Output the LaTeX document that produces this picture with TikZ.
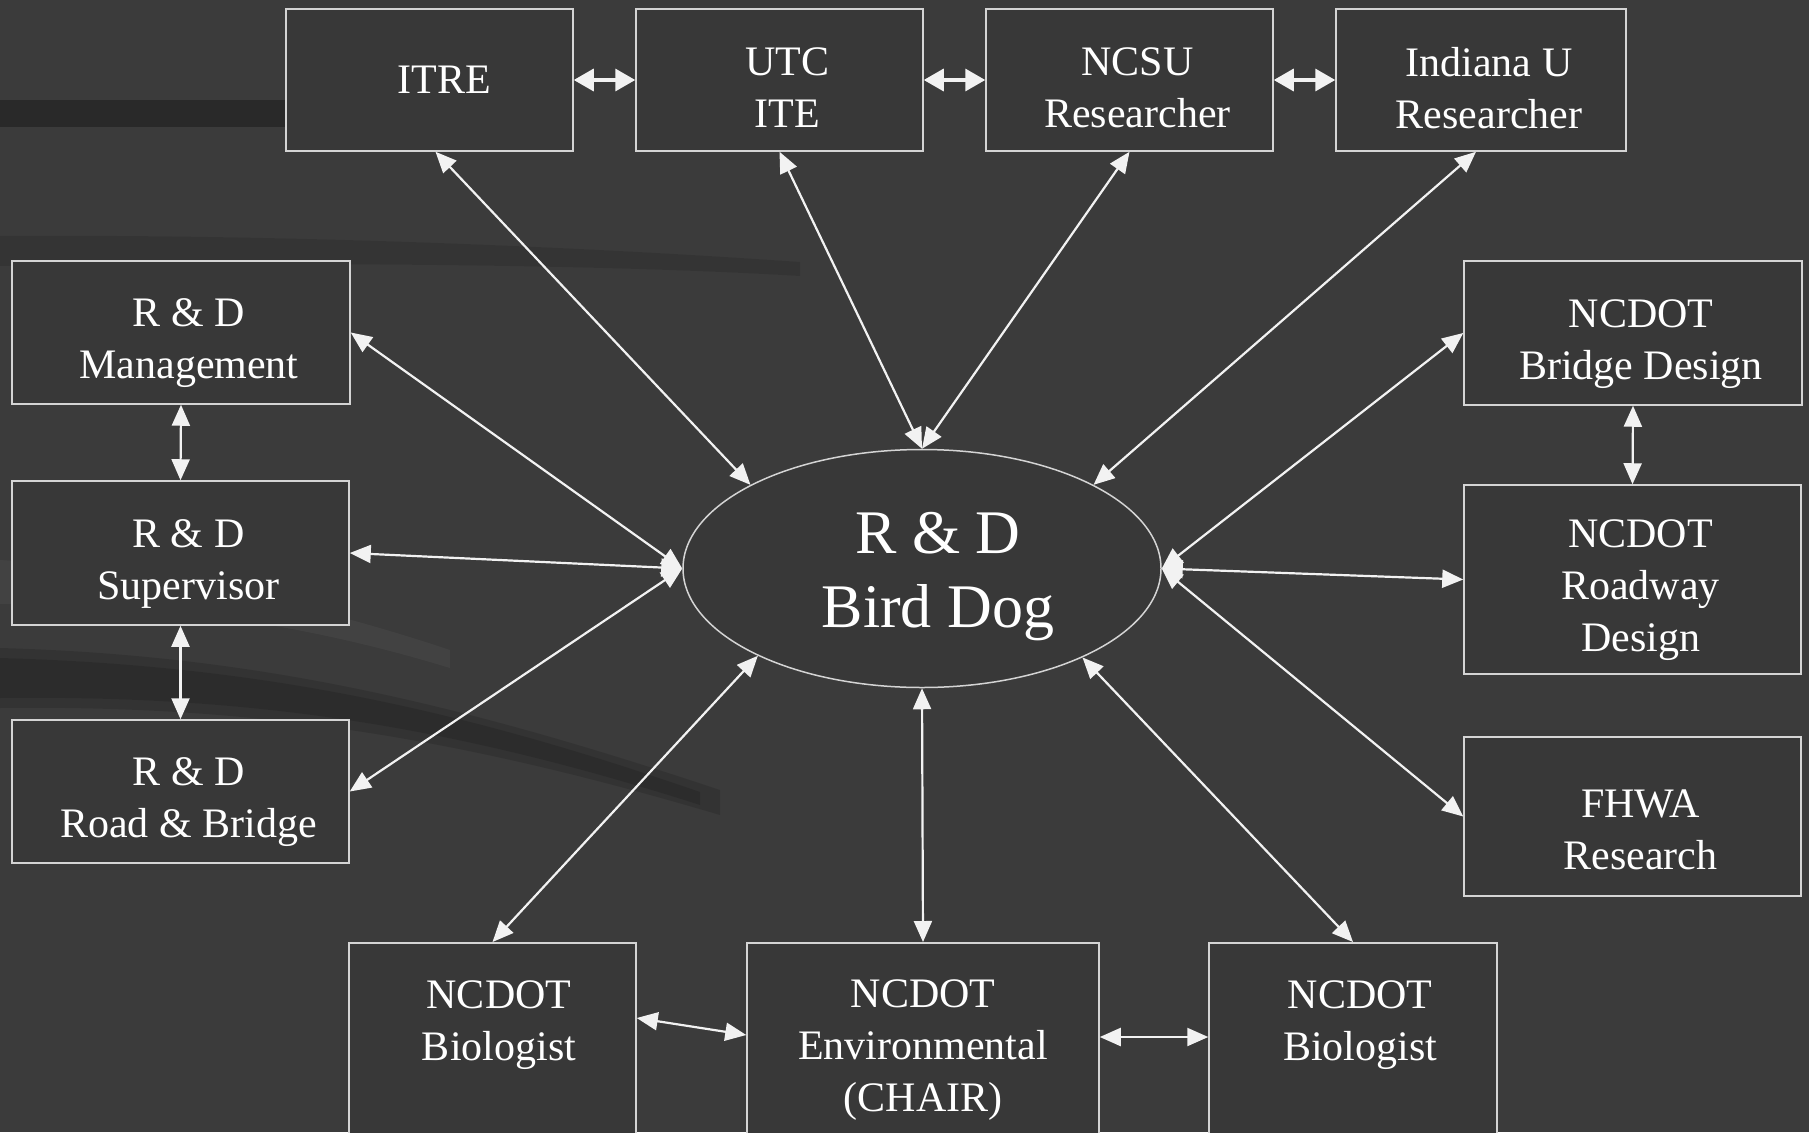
\documentclass[tikz,border=0pt]{standalone}
\usepackage{fontspec}
\setmainfont{Liberation Serif}
\usetikzlibrary{arrows.meta,shapes.geometric}
\definecolor{bgc}{HTML}{3B3B3B}
\definecolor{boxc}{HTML}{383838}
\definecolor{lnc}{HTML}{F2F2F2}
\definecolor{edgec}{HTML}{D4D4D4}
\begin{document}
\begin{tikzpicture}[x=1pt,y=-1pt,
  box/.style={draw=edgec, line width=1.5pt, fill=boxc, inner sep=0pt},
  txt/.style={text=white, align=center, font=\fontsize{42}{52}\selectfont, inner sep=0pt},
  link/.style={draw=lnc, line width=2.2pt,
    {Triangle[length=21pt,width=18pt]}-{Triangle[length=21pt,width=18pt]}},
  toplink/.style={draw=lnc, line width=3.5pt,
    {Triangle[length=20pt,width=22pt]}-{Triangle[length=20pt,width=22pt]}}]
\useasboundingbox (0,0) rectangle (1809,1132);
\fill[bgc] (0,0) rectangle (1809,1132);
\clip (0,0) rectangle (1809,1132);
% background streaks
\fill[black, opacity=0.3] (0,100) rectangle (290,127);
\fill[black, opacity=0.10] (0,236) .. controls (300,234) and (600,248) .. (800,262)
  -- (800,276) .. controls (600,264) and (300,262) .. (0,266) -- cycle;
\fill[black, opacity=0.12] (0,648) .. controls (250,655) and (450,700) .. (720,790)
  -- (720,815) .. controls (450,735) and (250,705) .. (0,708) -- cycle;
\fill[black, opacity=0.12] (0,658) .. controls (250,665) and (450,705) .. (700,792)
  -- (700,805) .. controls (450,725) and (250,695) .. (0,698) -- cycle;
\fill[white, opacity=0.04] (0,560) .. controls (150,570) and (300,600) .. (450,650)
  -- (450,668) .. controls (300,622) and (150,602) .. (0,604) -- cycle;

% top row
\node[box, minimum width=287pt, minimum height=142pt,
  label={[txt,xshift=15pt]center:ITRE}] (itre) at (429.5,80) {};
\node[box, minimum width=287pt, minimum height=142pt,
  label={[txt,xshift=8pt,yshift=-8pt]center:{UTC\\ITE}}] (utc) at (779.5,80) {};
\node[box, minimum width=287pt, minimum height=142pt,
  label={[txt,xshift=8pt,yshift=-8pt]center:{NCSU\\Researcher}}] (ncsu) at (1129.5,80) {};
\node[box, minimum width=290pt, minimum height=142pt,
  label={[txt,xshift=8pt,yshift=-8pt]center:{Indiana U\\Researcher}}] (indiana) at (1481,80) {};
% left column
\node[box, minimum width=338pt, minimum height=143pt,
  label={[txt,xshift=8pt,yshift=-11pt]center:{R \& D\\Management}}] (mgmt) at (181,332.5) {};
\node[box, minimum width=337pt, minimum height=144pt,
  label={[txt,xshift=8pt,yshift=-11pt]center:{R \& D\\Supervisor}}] (sup) at (180.5,553) {};
\node[box, minimum width=337pt, minimum height=143pt,
  label={[txt,xshift=8pt,yshift=-11pt]center:{R \& D\\Road \& Bridge}}] (road) at (180.5,791.5) {};
% right column
\node[box, minimum width=338pt, minimum height=144pt,
  label={[txt,xshift=8pt,yshift=-11pt]center:{NCDOT\\Bridge Design}}] (bridge) at (1633,333) {};
\node[box, minimum width=337pt, minimum height=189pt,
  label={[txt,xshift=8pt,yshift=-11pt]center:{NCDOT\\Roadway\\Design}}] (roadway) at (1632.5,579.5) {};
\node[box, minimum width=337pt, minimum height=159pt,
  label={[txt,xshift=8pt,yshift=-13pt]center:{FHWA\\Research}}] (fhwa) at (1632.5,816.5) {};
% bottom row (cut off by the page edge)
\node[box, minimum width=287pt, minimum height=260pt, anchor=north] (biol) at (492.5,942) {};
\node[box, minimum width=352pt, minimum height=260pt, anchor=north] (env) at (923,942) {};
\node[box, minimum width=288pt, minimum height=260pt, anchor=north] (bior) at (1353,942) {};
\node[txt] (biolt) at (499,1025) {NCDOT\\Biologist};
\node[txt] (envt) at (923,1050) {NCDOT\\Environmental\\(CHAIR)};
\node[txt] (biort) at (1360,1025) {NCDOT\\Biologist};
% centre
\node[ellipse, draw=edgec, line width=1.5pt, fill=boxc, minimum width=478pt, minimum height=238pt,
  inner sep=0pt, label={[text=white, align=center, inner sep=0pt,
  font=\fontsize{62}{74}\selectfont, xshift=16pt, yshift=-8pt]center:{R \& D\\Bird Dog}}] (bd) at (922,568.5) {};

% top horizontal links
\draw[toplink] (itre.east) -- (utc.west);
\draw[toplink] (utc.east) -- (ncsu.west);
\draw[toplink] (ncsu.east) -- (indiana.west);
% radial links
\draw[link] ([xshift=6pt]itre.south) -- (bd.154);
\draw[link] (utc.south) -- (bd.north);
\draw[link] (ncsu.south) -- (bd.north);
\draw[link] ([xshift=-5pt]indiana.south) -- (bd.26);
\draw[link] (mgmt.east) -- (bd.west);
\draw[link] (sup.east) -- (bd.west);
\draw[link] (road.east) -- (bd.west);
\draw[link] (bridge.west) -- (bd.east);
\draw[link] (roadway.west) -- (bd.east);
\draw[link] (fhwa.west) -- (bd.east);
\draw[link] (biol.north) -- (bd.208);
\draw[link] (env.north) -- (bd.south);
\draw[link] (bior.north) -- (bd.331);
% column links
\draw[link] (mgmt.south) -- (sup.north);
\draw[link] (sup.south) -- (road.north);
\draw[link] (bridge.south) -- (roadway.north);
% bottom links
\draw[link] ([yshift=-76pt]biol.north east) -- ([yshift=-93pt]env.north west);
\draw[link] ([yshift=-95pt]env.north east) -- ([yshift=-95pt]bior.north west);
\end{tikzpicture}
\end{document}
